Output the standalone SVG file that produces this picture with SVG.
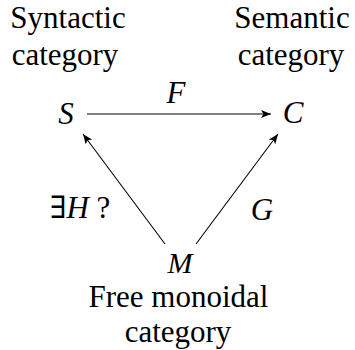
<svg xmlns="http://www.w3.org/2000/svg" width="355" height="350" viewBox="0 0 355 350">
<defs>
<marker id="ah" viewBox="0 0 10 8" refX="10" refY="4" markerWidth="10" markerHeight="8" markerUnits="userSpaceOnUse" orient="auto">
<path d="M0,0 L10,4 L0,8 L2.5,4 Z" fill="#000"/>
</marker>
</defs>
<rect width="355" height="350" fill="#fff"/>
<g id="syntactic">
<text style="font-family:'Liberation Serif','Times New Roman',serif" font-size="31" text-anchor="middle" x="68" y="28">Syntactic</text>
<text style="font-family:'Liberation Serif','Times New Roman',serif" font-size="31" text-anchor="middle" x="65" y="65">category</text>
<text style="font-family:'Liberation Serif','Times New Roman',serif" font-size="31" text-anchor="middle" font-style="italic" x="66" y="124">S</text>
</g>
<g id="semantic">
<text style="font-family:'Liberation Serif','Times New Roman',serif" font-size="31" text-anchor="middle" x="292" y="28">Semantic</text>
<text style="font-family:'Liberation Serif','Times New Roman',serif" font-size="31" text-anchor="middle" x="291" y="65">category</text>
<text style="font-family:'Liberation Serif','Times New Roman',serif" font-size="31" text-anchor="middle" font-style="italic" x="293" y="123">C</text>
</g>
<g id="free">
<text style="font-family:'Liberation Serif','Times New Roman',serif" font-size="30" text-anchor="middle" font-style="italic" x="180" y="273">M</text>
<text style="font-family:'Liberation Serif','Times New Roman',serif" font-size="31" text-anchor="middle" x="178.5" y="307">Free monoidal</text>
<text style="font-family:'Liberation Serif','Times New Roman',serif" font-size="31" text-anchor="middle" x="178" y="342">category</text>
</g>
<g id="connectors" stroke="#000" stroke-width="1.1" fill="none">
<line x1="87" y1="114" x2="271" y2="114" marker-end="url(#ah)"/>
<line x1="165" y1="244" x2="83" y2="134" marker-end="url(#ah)"/>
<line x1="196" y1="244" x2="278" y2="134" marker-end="url(#ah)"/>
</g>
<g id="labels">
<text style="font-family:'Liberation Serif','Times New Roman',serif" font-size="31" text-anchor="middle" font-style="italic" x="176" y="103">F</text>
<text style="font-family:'Liberation Serif','DejaVu Serif',serif" font-size="31" text-anchor="middle" x="80" y="218">∃<tspan font-style="italic">H</tspan> ?</text>
<text style="font-family:'Liberation Serif','Times New Roman',serif" font-size="31" text-anchor="middle" font-style="italic" x="262" y="220">G</text>
</g>
</svg>
